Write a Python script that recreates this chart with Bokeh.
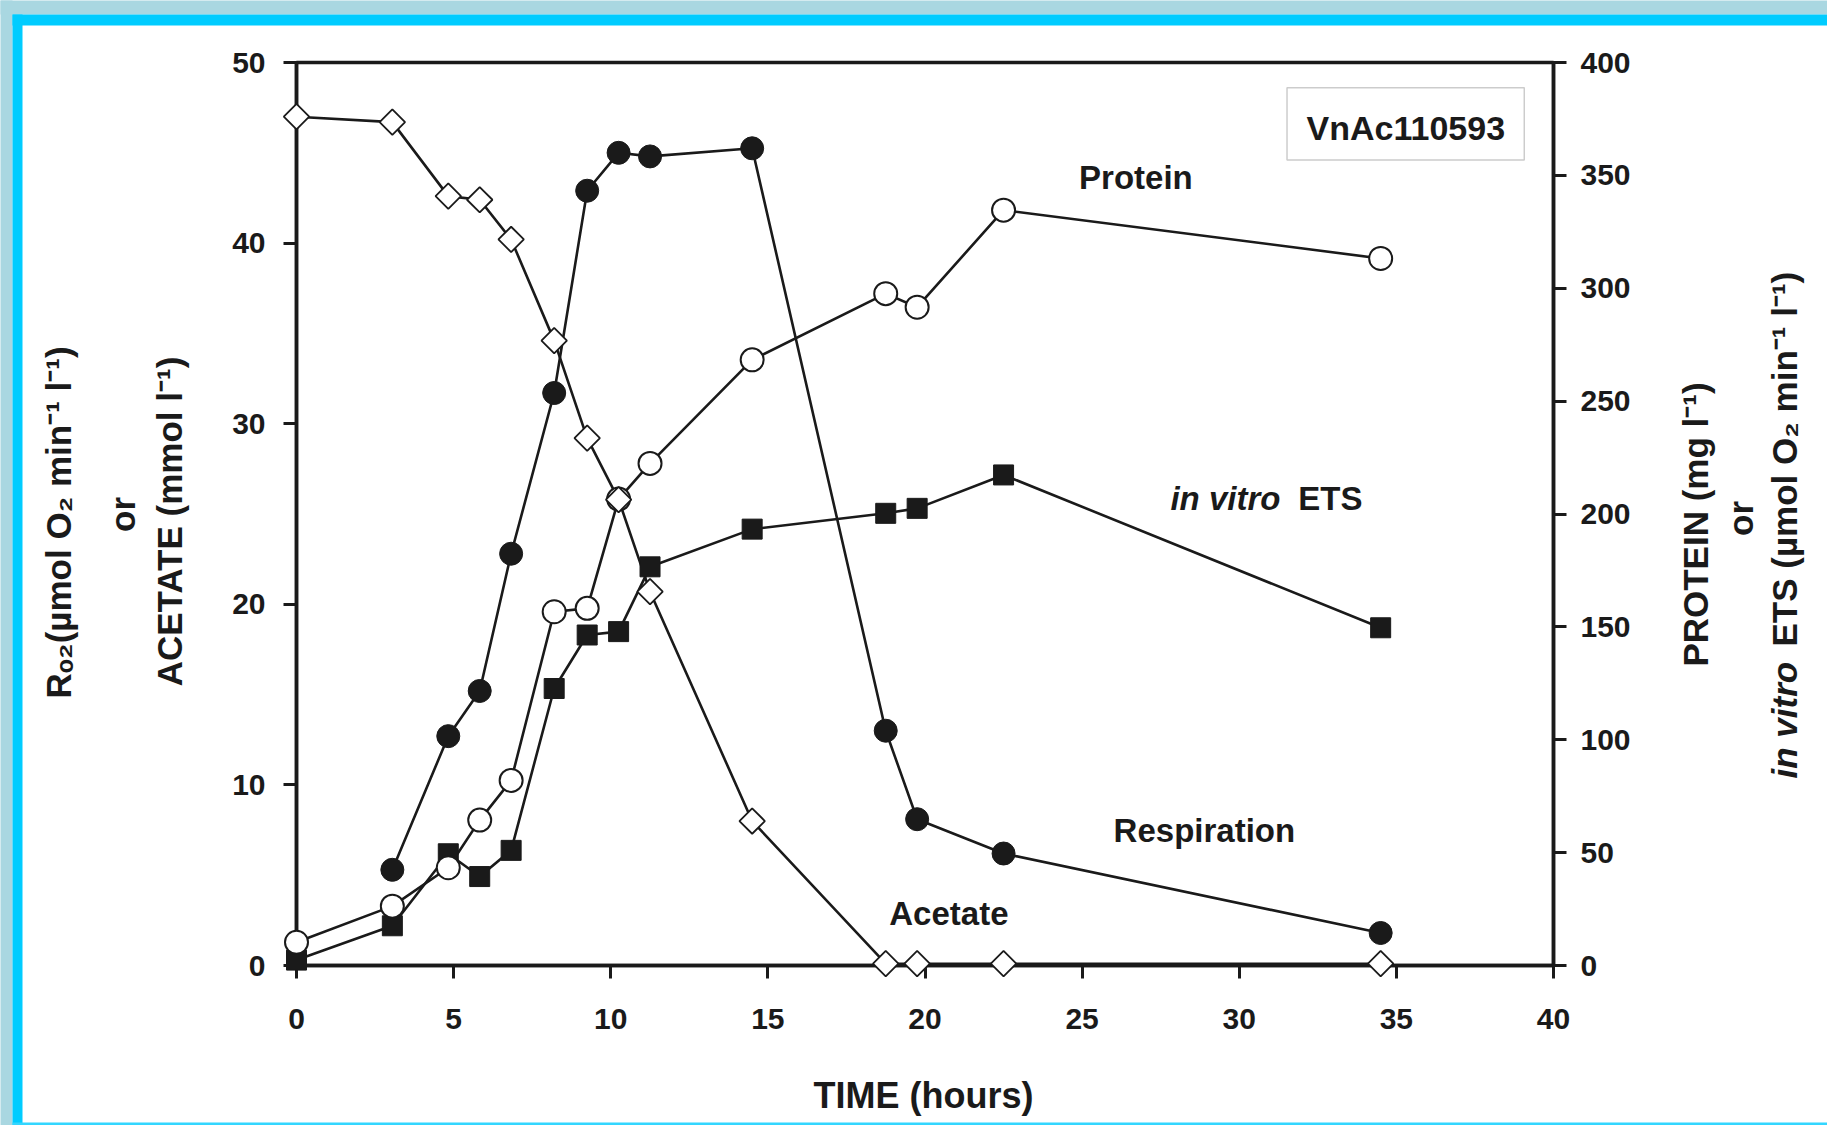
import numpy as np
from bokeh.plotting import figure
from bokeh.models import Range1d, LinearAxis, FixedTicker, Label, BoxAnnotation
from bokeh.core.properties import value
from bokeh.embed import file_html
from bokeh.resources import INLINE

# ---------------- data ----------------
time_h = [0, 3.05, 4.83, 5.83, 6.83, 8.2, 9.25, 10.25, 11.25, 14.5, 18.75, 19.75, 22.5, 34.5]
resp_time = [3.05, 4.83, 5.83, 6.83, 8.2, 9.25, 10.25, 11.25, 14.5, 18.75, 19.75, 22.5, 34.5]
respiration = [5.3, 12.7, 15.2, 22.8, 31.7, 42.9, 45.0, 44.8, 45.25, 13.0, 8.1, 6.2, 1.8]
acetate = [47.0, 46.7, 42.6, 42.4, 40.2, 34.6, 29.2, 25.8, 20.7, 8.0, 0.1, 0.1, 0.1, 0.1]
protein = [10.3, 26.3, 43.3, 64.4, 82.0, 156.7, 158.2, 206.6, 222.4, 268.3, 297.6, 291.6, 334.6, 313.2]
ets = [2.4, 17.6, 49.5, 39.4, 51.0, 122.7, 146.4, 147.9, 176.6, 193.3, 200.3, 202.5, 217.3, 149.6]

x_ticks = [0, 5, 10, 15, 20, 25, 30, 35, 40]
left_ticks = [0, 10, 20, 30, 40, 50]
right_ticks = [0, 50, 100, 150, 200, 250, 300, 350, 400]

FONT = "Liberation Sans"
INK = "#1a1a1a"

W, H = 1827, 1125
FL, FR, FT, FB = 296, 1553, 62, 965          # frame edges on the canvas
XMAX, YMAX = 40, 50

p = figure(width=W, height=H, output_backend="svg", toolbar_location=None,
           x_range=Range1d(0, XMAX), y_range=Range1d(0, YMAX),
           min_border_left=FL, min_border_right=W - FR, min_border_top=FT, min_border_bottom=H - FB)
p.background_fill_color = "white"
p.border_fill_color = "white"
p.outline_line_color = INK
p.outline_line_width = 3.5
p.xgrid.visible = False
p.ygrid.visible = False

p.extra_y_ranges = {"right": Range1d(0, 400)}
p.add_layout(LinearAxis(y_range_name="right"), "right")

for ax in p.axis:
    ax.axis_line_width = 3.5
    ax.axis_line_color = INK
    ax.major_tick_line_width = 3
    ax.major_tick_line_color = INK
    ax.major_tick_out = 13
    ax.major_tick_in = 0
    ax.minor_tick_out = 0
    ax.minor_tick_in = 0
    ax.major_label_text_font = FONT
    ax.major_label_text_font_style = "bold"
    ax.major_label_text_font_size = "30px"
    ax.major_label_text_color = INK
    ax.major_label_standoff = 14

p.xaxis.ticker = FixedTicker(ticks=x_ticks)
p.xaxis.major_label_standoff = 30
p.yaxis[0].ticker = FixedTicker(ticks=left_ticks)
p.yaxis[0].major_label_standoff = 18
p.yaxis[1].ticker = FixedTicker(ticks=right_ticks)

# ---------------- lines ----------------
LW = 2.6
p.line(resp_time, respiration, line_color=INK, line_width=LW)
p.line(time_h, acetate, line_color=INK, line_width=LW)
p.line(time_h, protein, line_color=INK, line_width=LW, y_range_name="right")
p.line(time_h, ets, line_color=INK, line_width=LW, y_range_name="right")

# ---------------- markers ----------------
p.scatter(time_h, ets, marker="square", size=20, fill_color=INK, line_color=INK,
          line_width=1, y_range_name="right", level="overlay")
p.scatter(time_h, protein, marker="circle", size=23, fill_color="white", line_color=INK,
          line_width=2, y_range_name="right", level="overlay")
p.scatter(time_h, acetate, marker="square", angle=np.pi / 4, size=18, fill_color="white",
          line_color=INK, line_width=1.8, level="overlay")
p.scatter(resp_time, respiration, marker="circle", size=23, fill_color=INK, line_color=INK,
          line_width=1, level="overlay")

# ---------------- in-plot labels ----------------
def lab(x, y, text, size="33px", style="bold", align="center"):
    p.add_layout(Label(x=x, y=y, text=text, text_font=FONT, text_font_size=size,
                       text_font_style=style, text_color=INK, text_align=align,
                       text_baseline="middle"))

lab(26.71, 43.65, "Protein")
lab(29.56, 25.86, "in vitro", style="bold italic")
lab(32.9, 25.86, "ETS")
lab(28.89, 7.47, "Respiration")
lab(20.76, 2.86, "Acetate")

p.add_layout(BoxAnnotation(left=31.52, right=39.07, top=48.6, bottom=44.6,
                           fill_alpha=0, line_color="#555555", line_width=1.5))
lab(35.3, 46.4, "VnAc110593", size="34px")

# ---------------- outside-frame texts: text glyphs at overlay level ----------------
def dx(px):
    return (px - FL) / (FR - FL) * XMAX

def dy(py):
    return (FB - py) / (FB - FT) * YMAX

def otext(px, py, text, angle=0.0, size="35px", style="bold", align="center"):
    p.text(x=[dx(px)], y=[dy(py)], text=[text], angle=angle,
           text_font=value(FONT), text_font_size=value(size), text_font_style=style,
           text_color=INK, text_align=align, text_baseline="middle", level="overlay")

otext(923, 1095, "TIME (hours)", size="36px")
otext(58, 522, "R\u2092\u2082(\u00b5mol O\u2082 min\u207b\u00b9 l\u207b\u00b9)", angle=np.pi / 2)
otext(122, 514, "or", angle=np.pi / 2)
otext(169, 521, "ACETATE (mmol l\u207b\u00b9)", angle=np.pi / 2)
otext(1695, 524, "PROTEIN (mg l\u207b\u00b9)", angle=np.pi / 2)
otext(1740, 518, "or", angle=np.pi / 2)
otext(1784, 778, "in vitro", angle=np.pi / 2, style="bold italic", align="left")
otext(1784, 646, "ETS (\u00b5mol O\u2082 min\u207b\u00b9 l\u207b\u00b9)", angle=np.pi / 2, align="left")

# ---------------- page decoration: blue background strip and cyan border ----------------
def obox(l, r, t, b, color):
    p.quad(left=[dx(l)], right=[dx(r)], top=[dy(t)], bottom=[dy(b)],
           fill_color=color, line_alpha=0, level="overlay")

obox(0, W, 0, 14, "#a9d7e1")
obox(0, 12, 0, H, "#a9d7e1")
obox(12, W, 14, 25, "#00ccff")
obox(12, 22, 14, H, "#00ccff")
obox(12, W, 1122, H, "#33d6ff")

open("out.html", "w").write(file_html(p, INLINE))
